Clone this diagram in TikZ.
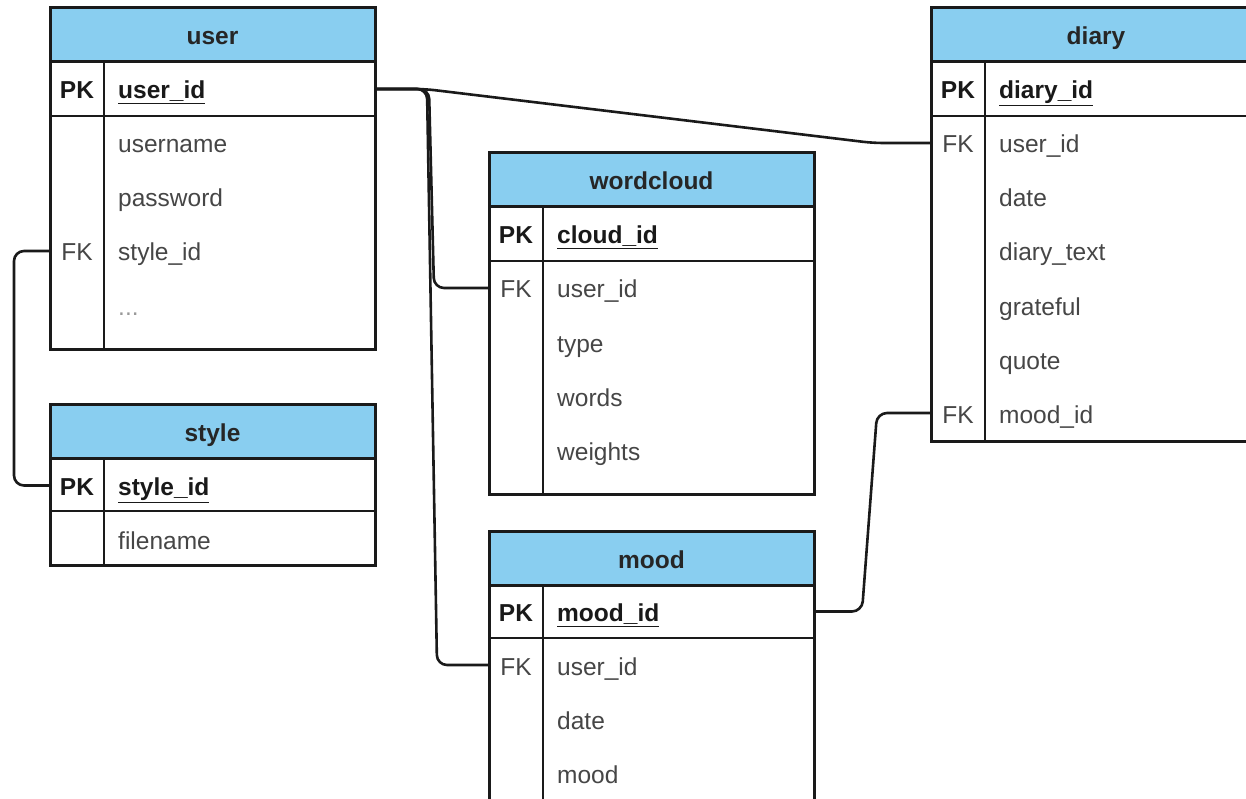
\documentclass[tikz,border=0pt]{standalone}
\usepackage{fontspec}
\setmainfont{Liberation Sans}
\usetikzlibrary{positioning}
\definecolor{hdrblue}{RGB}{137,206,240}
\definecolor{rowgray}{RGB}{70,70,70}
\definecolor{framecol}{RGB}{26,26,26}

\begin{document}
\begin{tikzpicture}[x=1pt,y=-1pt,
  hdr/.style={draw=framecol,line width=3pt,fill=hdrblue,minimum width=325pt,
    minimum height=54pt,inner sep=0pt,outer sep=0pt,text height=22pt,text depth=2pt,
    font=\fontsize{24.5}{28}\selectfont\bfseries,text=black!85},
  tbl/.style={draw=framecol,line width=3pt,minimum width=325pt,inner sep=0pt,outer sep=0pt},
  sep/.style={draw=framecol,line width=2.2pt},
  fld/.style={anchor=west,inner sep=0pt,text height=22pt,text depth=2pt,
    font=\fontsize{24.5}{28}\selectfont,text=rowgray},
  pkfld/.style={fld,font=\fontsize{24.5}{28}\selectfont\bfseries,text=black!90},
  key/.style={inner sep=0pt,text height=22pt,text depth=2pt,
    font=\fontsize{24.5}{28}\selectfont\bfseries,text=black!90},
  fkey/.style={key,font=\fontsize{24.5}{28}\selectfont,text=rowgray},
  link/.style={draw=framecol,line width=2.6pt,rounded corners=10pt}]

  \useasboundingbox (0,0) rectangle (1246,799);
  \clip (0,0) rectangle (1246,799);
  \fill[white] (0,0) rectangle (1246,799);

  % user
  \node[hdr,anchor=north west] (user) at (50,8) {user};
  \node[tbl,minimum height=287pt,below=0pt of user] (user-b) {};
  \draw[sep] ([xshift=54pt]user-b.north west) -- ([xshift=54pt]user-b.south west);
  \draw[sep] ([yshift=-54pt]user-b.north west) -- ([yshift=-54pt]user-b.north east);
  \node[key] (user-pk) at (77,89) {PK};
  \node[pkfld] (user-id) at (118,89) {\underline{user\_id}};
  \node[fld] (user-name) at (118,143) {username};
  \node[fld] (user-pw) at (118,197) {password};
  \node[fkey] (user-fk) at (77,251) {FK};
  \node[fld] (user-style) at (118,251) {style\_id};
  \node[fld,text=black!40] (user-more) at (118,305) {...};

  % style
  \node[hdr,anchor=north west] (style) at (50,404) {style};
  \node[tbl,minimum height=107pt,below=0pt of style] (style-b) {};
  \draw[sep] ([xshift=54pt]style-b.north west) -- ([xshift=54pt]style-b.south west);
  \draw[sep] ([yshift=-53pt]style-b.north west) -- ([yshift=-53pt]style-b.north east);
  \node[key] (style-pk) at (77,485.5) {PK};
  \node[pkfld] (style-id) at (118,485.5) {\underline{style\_id}};
  \node[fld] (style-file) at (118,539) {filename};

  % wordcloud
  \node[hdr,anchor=north west] (cloud) at (489,153) {wordcloud};
  \node[tbl,minimum height=287pt,below=0pt of cloud] (cloud-b) {};
  \draw[sep] ([xshift=54pt]cloud-b.north west) -- ([xshift=54pt]cloud-b.south west);
  \draw[sep] ([yshift=-54pt]cloud-b.north west) -- ([yshift=-54pt]cloud-b.north east);
  \node[key] (cloud-pk) at (516,234) {PK};
  \node[pkfld] (cloud-id) at (557,234) {\underline{cloud\_id}};
  \node[fkey] (cloud-fk) at (516,288) {FK};
  \node[fld] (cloud-user) at (557,288) {user\_id};
  \node[fld] (cloud-type) at (557,342) {type};
  \node[fld] (cloud-words) at (557,396) {words};
  \node[fld] (cloud-weights) at (557,450) {weights};

  % mood
  \node[hdr,anchor=north west] (mood) at (489,531) {mood};
  \node[tbl,minimum height=240pt,below=0pt of mood] (mood-b) {};
  \draw[sep] ([xshift=54pt]mood-b.north west) -- ([xshift=54pt]mood-b.south west);
  \draw[sep] ([yshift=-53pt]mood-b.north west) -- ([yshift=-53pt]mood-b.north east);
  \node[key] (mood-pk) at (516,611.5) {PK};
  \node[pkfld] (mood-id) at (557,611.5) {\underline{mood\_id}};
  \node[fkey] (mood-fk) at (516,665) {FK};
  \node[fld] (mood-user) at (557,665) {user\_id};
  \node[fld] (mood-date) at (557,719) {date};
  \node[fld] (mood-mood) at (557,773) {mood};

  % diary
  \node[hdr,anchor=north west,minimum width=330pt] (diary) at (931,8) {diary};
  \node[tbl,minimum width=330pt,minimum height=379pt,below=0pt of diary] (diary-b) {};
  \draw[sep] ([xshift=54pt]diary-b.north west) -- ([xshift=54pt]diary-b.south west);
  \draw[sep] ([yshift=-54pt]diary-b.north west) -- ([yshift=-54pt]diary-b.north east);
  \node[key] (diary-pk) at (958,89) {PK};
  \node[pkfld] (diary-id) at (999,89) {\underline{diary\_id}};
  \node[fkey] (diary-fk1) at (958,143) {FK};
  \node[fld] (diary-user) at (999,143) {user\_id};
  \node[fld] (diary-date) at (999,197) {date};
  \node[fld] (diary-text) at (999,251) {diary\_text};
  \node[fld] (diary-grateful) at (999,305) {grateful};
  \node[fld] (diary-quote) at (999,359) {quote};
  \node[fkey] (diary-fk2) at (958,413) {FK};
  \node[fld] (diary-mood) at (999,413) {mood\_id};

  % relations
  \draw[link] (user.east |- user-id) -- ++(50,0)
    -- ([xshift=-58pt]diary.west |- diary-user) -- (diary.west |- diary-user);
  \draw[link] (user.east |- user-id) -- ++(54,0)
    -- ([xshift=-55pt]cloud.west |- cloud-user) -- (cloud.west |- cloud-user);
  \draw[link] (user.east |- user-id) -- ++(52,0)
    -- ([xshift=-52pt]mood.west |- mood-user) -- (mood.west |- mood-user);
  \draw[link] (user.west |- user-style) -- ++(-36,0)
    -- ([xshift=-36pt]style.west |- style-id) -- (style.west |- style-id);
  \draw[link] (mood.east |- mood-id) -- ++(48,0)
    -- ([xshift=-54pt]diary.west |- diary-mood) -- (diary.west |- diary-mood);
\end{tikzpicture}
\end{document}
